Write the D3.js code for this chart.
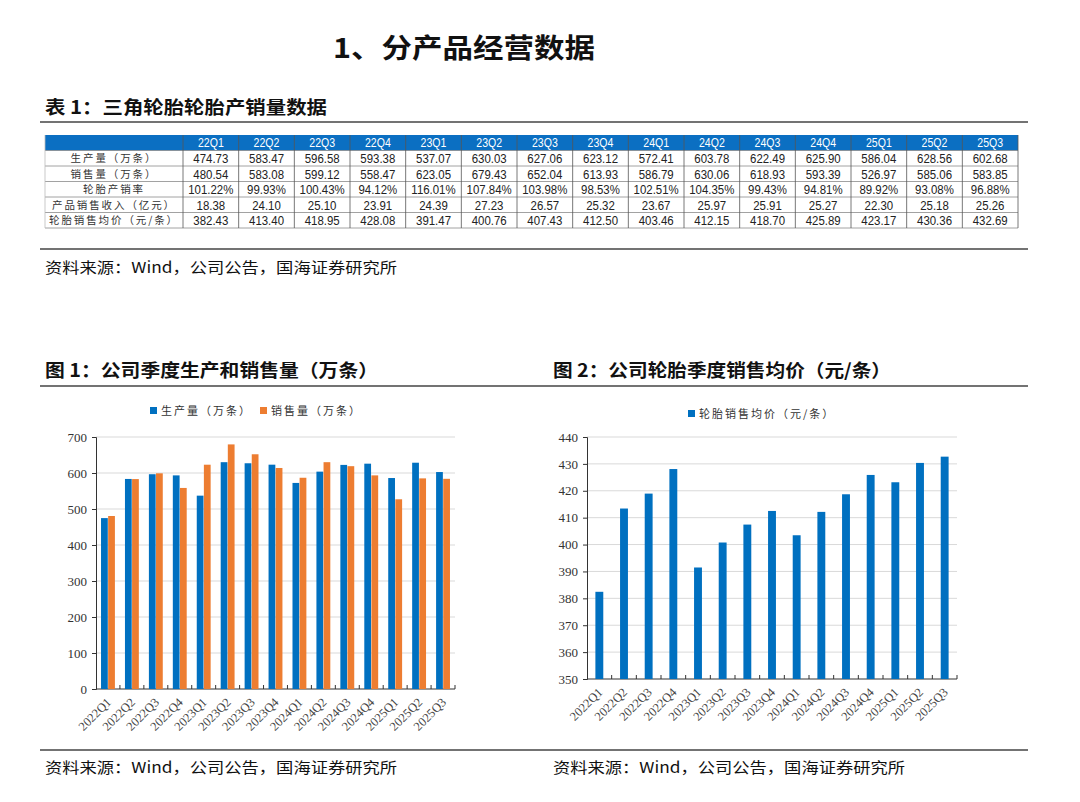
<!DOCTYPE html>
<html>
<head>
<meta charset="utf-8">
<script src="https://cdn.jsdelivr.net/npm/d3@7"></script>
<style>
  html, body { margin: 0; padding: 0; background: #fff; }
  svg text { font-family: "Noto Sans CJK SC", "Noto Sans", sans-serif; }
  .serif { font-family: "Liberation Serif", "DejaVu Serif", serif !important; }
  .num { font-family: "Liberation Sans", Arial, sans-serif !important; }
</style>
</head>
<body>
<script>
// table data
var quarters = ["22Q1","22Q2","22Q3","22Q4","23Q1","23Q2","23Q3","23Q4","24Q1","24Q2","24Q3","24Q4","25Q1","25Q2","25Q3"];
var quarterLabels = ["2022Q1","2022Q2","2022Q3","2022Q4","2023Q1","2023Q2","2023Q3","2023Q4","2024Q1","2024Q2","2024Q3","2024Q4","2025Q1","2025Q2","2025Q3"];
var rowNames = ["生产量（万条）","销售量（万条）","轮胎产销率","产品销售收入（亿元）","轮胎销售均价（元/条）"];
var production = [474.73,583.47,596.58,593.38,537.07,630.03,627.06,623.12,572.41,603.78,622.49,625.90,586.04,628.56,602.68];
var sales = [480.54,583.08,599.12,558.47,623.05,679.43,652.04,613.93,586.79,630.06,618.93,593.39,526.97,585.06,583.85];
var ratio = ["101.22%","99.93%","100.43%","94.12%","116.01%","107.84%","103.98%","98.53%","102.51%","104.35%","99.43%","94.81%","89.92%","93.08%","96.88%"];
var revenue = [18.38,24.10,25.10,23.91,24.39,27.23,26.57,25.32,23.67,25.97,25.91,25.27,22.30,25.18,25.26];
var price = [382.43,413.40,418.95,428.08,391.47,400.76,407.43,412.50,403.46,412.15,418.70,425.89,423.17,430.36,432.69];

var ticks1 = [0,100,200,300,400,500,600,700];
var ticks2 = [350,360,370,380,390,400,410,420,430,440];

var blue = "#0070C0";
var orange = "#ED7D31";
var source = "资料来源：Wind，公司公告，国海证券研究所";

var w = 1080, h = 802;
var svg = d3.select("body").append("svg").attr("width", w).attr("height", h);

// headings
var heading = function(txt, x, y, size, len, weight) {
  svg.append("text")
    .attr("x", x).attr("y", y)
    .attr("font-size", size)
    .attr("font-weight", weight || 700)
    .attr("fill", "#111")
    .attr("textLength", len)
    .attr("lengthAdjust", "spacingAndGlyphs")
    .text(txt);
};
var rule = function(x1, x2, y) {
  svg.append("line").attr("x1", x1).attr("x2", x2).attr("y1", y).attr("y2", y)
    .attr("stroke", "#444").attr("stroke-width", 1.6);
};

heading("1、分产品经营数据", 333, 58, 27, 262);
heading("表 1：三角轮胎轮胎产销量数据", 45, 114, 18, 282);
rule(40, 1028, 122);
rule(40, 1028, 249);
heading(source, 45, 273, 15, 352, 400);

heading("图 1：公司季度生产和销售量（万条）", 45, 377, 18, 333);
heading("图 2：公司轮胎季度销售均价（元/条）", 553, 377, 18, 338);
rule(40, 1028, 386);
rule(40, 1028, 750);
heading(source, 45, 773, 15, 352, 400);
heading(source, 553, 773, 15, 352, 400);

// table
var tbl = svg.append("g");
var colX = d3.scaleBand().domain(quarters).range([183, 1018]);
var rowY = d3.scaleBand().domain(d3.range(6)).range([135, 228]);
var rows = [production.map(d => d.toFixed(2)), sales.map(d => d.toFixed(2)), ratio,
            revenue.map(d => d.toFixed(2)), price.map(d => d.toFixed(2))];

tbl.append("rect").attr("x", 45).attr("y", rowY(0)).attr("width", 1018 - 45)
  .attr("height", rowY.bandwidth()).attr("fill", "#0B6FC2");

// narrow cell text, the source table uses a condensed face
var cell = function(sel, cx, cy, size) {
  return sel.append("text")
    .attr("class", "num")
    .attr("transform", "translate(" + cx + "," + cy + ") scale(0.88,1)")
    .attr("text-anchor", "middle").attr("font-size", size);
};

quarters.forEach(function(q) {
  cell(tbl, colX(q) + colX.bandwidth() / 2, rowY(0) + rowY.bandwidth() / 2 + 4.5, 12)
    .attr("fill", "#fff").text(q);
});

rows.forEach(function(vals, r) {
  var y = rowY(r + 1);
  tbl.append("text")
    .attr("x", 114).attr("y", y + rowY.bandwidth() / 2 + 3.8)
    .attr("text-anchor", "middle").attr("font-size", 10.5).attr("fill", "#333")
    .attr("letter-spacing", 1.9)
    .text(rowNames[r]);
  vals.forEach(function(v, i) {
    cell(tbl, colX(quarters[i]) + colX.bandwidth() / 2, y + rowY.bandwidth() / 2 + 4.8, 13)
      .attr("fill", "#222").text(v);
  });
});

// table grid
d3.range(1, 7).forEach(function(i) {
  var y = i < 6 ? rowY(i) : 228;
  tbl.append("line").attr("x1", 45).attr("x2", 1018).attr("y1", y).attr("y2", y)
    .attr("stroke", "#8a8a8a").attr("stroke-width", 0.8);
});
quarters.forEach(function(q) {
  tbl.append("line").attr("x1", colX(q)).attr("x2", colX(q))
    .attr("y1", rowY(0)).attr("y2", 228)
    .attr("stroke", "#555").attr("stroke-width", 0.8);
});
tbl.append("line").attr("x1", 1018).attr("x2", 1018).attr("y1", rowY(0)).attr("y2", 228)
  .attr("stroke", "#555").attr("stroke-width", 0.8);
tbl.append("line").attr("x1", 45).attr("x2", 45).attr("y1", rowY(0)).attr("y2", 228)
  .attr("stroke", "#bbb").attr("stroke-width", 0.8);

// shared chart pieces
var drawAxes = function(g, x, y, ticks, left, right, bottom, top) {
  g.selectAll(".grid").data(ticks.slice(1)).enter().append("line")
    .attr("x1", left).attr("x2", right)
    .attr("y1", d => y(d)).attr("y2", d => y(d))
    .attr("stroke", "#d9d9d9").attr("stroke-width", 1);

  var ya = d3.axisLeft(y).tickValues(ticks).tickSize(4).tickPadding(5);
  var yg = g.append("g").attr("transform", "translate(" + left + ",0)").call(ya);
  yg.select(".domain").attr("stroke", "#333");
  yg.selectAll(".tick line").attr("stroke", "#333");
  yg.selectAll("text").attr("class", "serif").attr("font-size", 13).attr("fill", "#333");

  g.append("line").attr("x1", left).attr("x2", right).attr("y1", bottom).attr("y2", bottom)
    .attr("stroke", "#333").attr("stroke-width", 1.2);
  x.domain().forEach(function(d, i) {
    if (i === 0) return;
    var xx = x(d) - x.step() * x.paddingInner() / 2;
    g.append("line").attr("x1", xx).attr("x2", xx).attr("y1", bottom).attr("y2", bottom - 4)
      .attr("stroke", "#333");
  });
  g.append("line").attr("x1", right).attr("x2", right).attr("y1", bottom).attr("y2", bottom - 4)
    .attr("stroke", "#333");

  g.selectAll(".xl").data(quarterLabels).enter().append("text")
    .attr("class", "serif")
    .attr("font-size", 12.5).attr("fill", "#444")
    .attr("text-anchor", "end")
    .attr("transform", (d, i) => "translate(" + (x(quarters[i]) + x.bandwidth() / 2 + 4) + "," + (bottom + 14) + ") rotate(-45)")
    .text(d => d);
};

var legendItem = function(g, x, y, color, label) {
  g.append("rect").attr("x", x).attr("y", y - 4).attr("width", 7).attr("height", 7).attr("fill", color);
  g.append("text").attr("x", x + 11).attr("y", y + 4)
    .attr("font-size", 11).attr("fill", "#333").attr("letter-spacing", 2)
    .text(label);
};

// chart 1
var g1 = svg.append("g");
var x1 = d3.scaleBand().domain(quarters).range([96, 455]).paddingInner(0.42).paddingOuter(0.21);
var xs = d3.scaleBand().domain(["p", "s"]).range([0, x1.bandwidth()]).paddingInner(0.05);
var y1 = d3.scaleLinear().domain([0, 700]).range([689, 437]);
drawAxes(g1, x1, y1, ticks1, 96, 455, 689, 437);

g1.selectAll(".bp").data(production).enter().append("rect")
  .attr("x", (d, i) => x1(quarters[i]) + xs("p"))
  .attr("width", xs.bandwidth())
  .attr("y", d => y1(d)).attr("height", d => y1(0) - y1(d))
  .attr("fill", blue);
g1.selectAll(".bs").data(sales).enter().append("rect")
  .attr("x", (d, i) => x1(quarters[i]) + xs("s"))
  .attr("width", xs.bandwidth())
  .attr("y", d => y1(d)).attr("height", d => y1(0) - y1(d))
  .attr("fill", orange);

legendItem(g1, 150, 411, blue, "生产量（万条）");
legendItem(g1, 260, 411, orange, "销售量（万条）");

// chart 2
var g2 = svg.append("g");
var x2 = d3.scaleBand().domain(quarters).range([587, 957]).paddingInner(0.68).paddingOuter(0.34);
var y2 = d3.scaleLinear().domain([350, 440]).range([679, 437]);
drawAxes(g2, x2, y2, ticks2, 587, 957, 679, 437);

g2.selectAll(".bar").data(price).enter().append("rect")
  .attr("x", (d, i) => x2(quarters[i]))
  .attr("width", x2.bandwidth())
  .attr("y", d => y2(d)).attr("height", d => y2(350) - y2(d))
  .attr("fill", blue);

legendItem(g2, 688, 414, blue, "轮胎销售均价（元/条）");
</script>
</body>
</html>
